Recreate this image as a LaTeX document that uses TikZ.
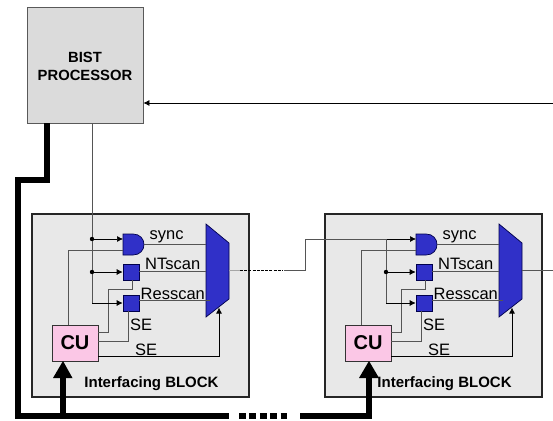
\documentclass[tikz,border=0pt]{standalone}
\usepackage{fontspec}
\setmainfont{Liberation Sans}
\usetikzlibrary{arrows.meta,calc}
\definecolor{wire}{HTML}{555555}
\definecolor{blu}{HTML}{3030C8}
\tikzset{
 wirel/.style={draw=wire,line width=0.8pt},
 sig/.style={draw=black,line width=0.7pt},
 tip/.style={-{Latex[length=6pt,width=6pt]}},
 bus/.style={draw=black,line width=5.5pt},
 blockbox/.style={draw=black!85,line width=1.6pt,fill=black!9,minimum width=#1,minimum height=183pt,inner sep=0,outer sep=0},
 gatebox/.style={draw=black!70!blue,line width=0.7pt,fill=blu,minimum size=16pt,inner sep=0},
 cubox/.style={draw=black!80,line width=0.7pt,fill=magenta!22,minimum width=46pt,minimum height=36pt,inner sep=0,font=\bfseries\fontsize{20}{22}\selectfont},
 lab/.style={inner sep=0,font=\fontsize{16.5}{18}\selectfont,anchor=base west},
 dot/.style={circle,fill=black,inner sep=0,minimum size=4.4pt},
}
\newcommand{\ifblock}[2]{%
 \begin{scope}[shift={(#1,0)}]
  \node[blockbox=217pt] (#2box) at (140.5,305.5) {};
  \node[cubox] (#2cu) at (75,343) {CU};
  \node[gatebox] (#2sa) at (131,272) {};
  \node[gatebox] (#2sb) at (131,303) {};
  \draw[draw=black!70!blue,line width=0.7pt,fill=blu] (123,234) -- (133,234) .. controls (140,234) and (144,239) .. (144,244.5) .. controls (144,250) and (140,255) .. (133,255) -- (123,255) -- cycle;
  \coordinate (#2and) at (123,239);
  \coordinate (#2andb) at (123,250);
  \coordinate (#2ando) at (144,244);
  \draw[draw=black!70!blue,line width=0.7pt,fill=blu] (206,224) -- (229,243) -- (229,299) -- (206,317) -- cycle;
  \coordinate (#2ma) at (206,244);
  \coordinate (#2mb) at (206,271);
  \coordinate (#2mc) at (210,300);
  \coordinate (#2ms) at (219,307.5);
  \coordinate (#2mo) at (229,270);
  % CU wires
  \draw[wirel] (68,325) -- (68,250) -- (#2andb);
  \draw[wirel] (98,332) -- (108,332) -- (108,289) -- (132,289) -- (132,280);
  \draw[wirel] (98,341) -- (128,341) -- (128,311);
  \draw[wirel,tip,black] (98,356) -- (219,356) -- (#2ms);
  % outputs
  \draw[wirel] (#2ando) -- (#2ma);
  \draw[wirel] (139,271) -- (#2mb);
  \draw[wirel] (139,300) -- (#2mc);
  % labels
  \node[lab] at (149.5,239) {sync};
  \node[lab] at (145,269) {NTscan};
  \node[lab] at (140.5,299) {Resscan};
  \node[lab] at (130,330) {SE};
  \node[lab] at (135,355) {SE};
  \node[inner sep=0,font=\bfseries\fontsize{15}{17}\selectfont] at (151.5,384) {Interfacing BLOCK};
 \end{scope}}
\begin{document}
\begin{tikzpicture}[x=1pt,y=-1pt]
\useasboundingbox (0,0) rectangle (553,420);
\node[draw=black!65,line width=0.8pt,fill=black!14,minimum width=116pt,minimum height=116pt,inner sep=0,text depth=0pt] (bist) at (85,65) {};
\node[inner sep=0,align=center,font=\bfseries\fontsize{14.8}{18.5}\selectfont] (bisttext) at (85,66.5) {BIST\\PROCESSOR};
\coordinate (inR) at (553,103);
\draw[sig,tip] (inR) -- (bist.east |- inR);
\ifblock{0}{L}
\ifblock{293}{R}
% scan-in left
\coordinate (lT) at (92,123);
\coordinate (lB) at (92,303);
\draw[wirel] (lT) -- (lB);
\draw[sig,tip] (92,239) -- (Land);
\draw[sig,tip] (92,272) -- (Lsa.west);
\draw[sig,tip] (lB) -- (Lsb.west);
\node[dot] at (92,239) {};
\node[dot] at (92,272) {};
% dashed link
\draw[draw=black!35,line width=0.8pt] (Lmo) -- (240,270);
\draw[draw=black,line width=0.7pt,dash pattern=on 3pt off 1.2pt] (240,270) -- (283,270);
\draw[wirel] (284,270) -- (305,270) -- (305,239) -- (386,239);
\draw[sig,tip] (386,239) -- (Rand);
\draw[wirel] (386,239) -- (386,303);
\draw[sig,tip] (386,272) -- (Rsa.west);
\draw[sig,tip] (386,303) -- (Rsb.west);
\node[dot] at (386,272) {};
\draw[wirel] (Rmo) -- (553,270);
% bus
\coordinate (busA) at (47,123);
\draw[bus,line join=miter] (busA) -- (47,180) -- (18,180) -- (18,416) -- (229,416);
\draw[draw=black,line width=5.5pt,dash pattern=on 7pt off 3.4pt] (239,416) -- (287,416);
\draw[bus] (300,416) -- (369,416) -- (369,370);
\draw[bus] (63,416) -- (63,370);
\fill (63,361) -- (53,378) -- (72.5,378) -- cycle;
\fill (369,361) -- (359,378) -- (379,378) -- cycle;
\end{tikzpicture}
\end{document}
